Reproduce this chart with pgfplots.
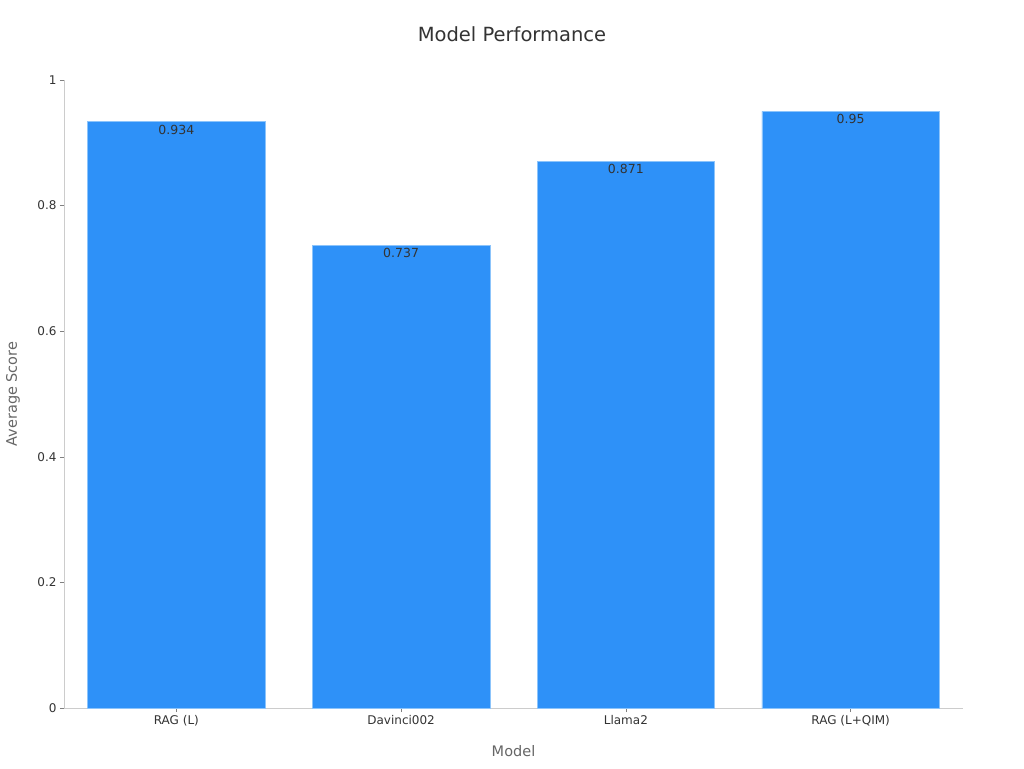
\documentclass[border=0pt]{standalone}
\usepackage{pgfplots}
\pgfplotsset{compat=1.18}
\usepackage{fontspec}
\setmainfont{DejaVu Sans}
\definecolor{barblue}{HTML}{2E91F8}
\definecolor{baredge}{HTML}{8CC4FB}
\definecolor{axgray}{HTML}{CCCCCC}
\definecolor{txtdark}{HTML}{333333}
\definecolor{lblgray}{HTML}{666666}
\begin{document}
\begin{tikzpicture}
\path (0,0) rectangle (1024pt,768pt);
\node[text=txtdark, font=\fontsize{19.5}{23}\selectfont] at (512pt,734pt) {Model Performance};
\begin{axis}[
    at={(64pt,60pt)}, anchor=south west,
    scale only axis,
    width=899pt, height=628pt,
    xmin=-0.5, xmax=3.5,
    ymin=0, ymax=1,
    axis lines=left,
    axis line style={axgray, -},
    xtick=data,
    xticklabels={RAG (L), Davinci002, Llama2, RAG (L+QIM)},
    ytick={0,0.2,0.4,0.6,0.8,1},
    tick align=outside,
    tick style={color=gray, line width=0.5pt},
    major tick length=4pt,
    tick label style={text=txtdark, font=\fontsize{12}{14}\selectfont},
    /pgf/number format/assume math mode=true,
    xlabel={Model}, ylabel={Average Score},
    label style={text=lblgray, font=\fontsize{14.5}{17}\selectfont},
    xlabel style={at={(axis description cs:0.5,-0.0685)}, anchor=center},
    ylabel style={at={(axis description cs:-0.0567,0.5)}, anchor=center, rotate=0},
    ybar, bar width=0.79,
    nodes near coords,
    every node near coord/.append style={anchor=north, yshift=-1pt, inner sep=2pt,
        text=txtdark, font=\fontsize{12.5}{15}\selectfont,
        /pgf/number format/assume math mode=true},
    point meta=explicit symbolic,
]
\addplot[fill=barblue, draw=baredge, line width=0.6pt] coordinates {
    (0,0.934) [0.934]
    (1,0.737) [0.737]
    (2,0.871) [0.871]
    (3,0.95) [0.95]
};
\end{axis}
\end{tikzpicture}
\end{document}
